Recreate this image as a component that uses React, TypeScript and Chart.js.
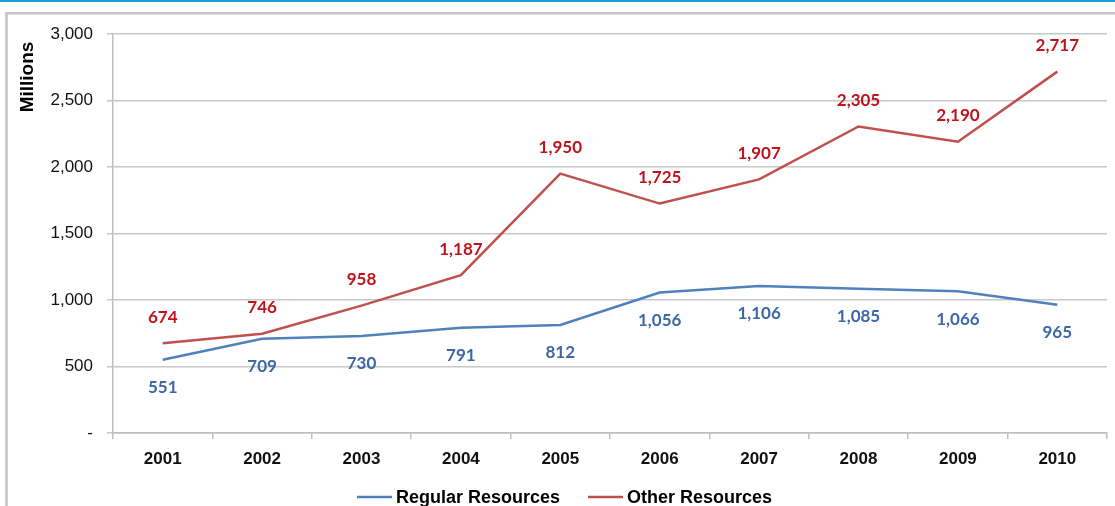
import React, { useEffect, useRef } from "react";
import { Chart, registerables } from "chart.js";

Chart.register(...registerables);

const years = ["2001", "2002", "2003", "2004", "2005", "2006", "2007", "2008", "2009", "2010"];
const regularResources = [551, 709, 730, 791, 812, 1056, 1106, 1085, 1066, 965];
const otherResources = [674, 746, 958, 1187, 1950, 1725, 1907, 2305, 2190, 2717];
const seriesNames = ["Regular Resources", "Other Resources"];
const lineColors = ["#4f81bd", "#c0504d"];
const labelColors = ["#3d67a6", "#c0141c"];
const yAxisTitle = "Millions";

const fmt = (v: number) => (v === 0 ? "-" : v.toLocaleString("en-US"));

const decorPlugin = {
  id: "decor",
  beforeDraw(chart: any) {
    const ctx = chart.ctx;
    ctx.save();
    ctx.fillStyle = "#ffffff";
    ctx.fillRect(0, 0, chart.width, chart.height);
    ctx.fillStyle = "#1b9bd7";
    ctx.fillRect(0, 0, chart.width, 2);
    ctx.strokeStyle = "#c4c4c4";
    ctx.lineWidth = 2.5;
    ctx.beginPath();
    ctx.moveTo(6.5, chart.height + 5);
    ctx.lineTo(6.5, 13.2);
    ctx.lineTo(chart.width + 5, 13.2);
    ctx.stroke();
    ctx.restore();
  },
  afterDraw(chart: any) {
    const ctx = chart.ctx;
    ctx.save();
    ctx.translate(28, 77);
    ctx.rotate(-Math.PI / 2);
    ctx.font = "bold 19px 'Liberation Sans', Arial, sans-serif";
    ctx.fillStyle = "#000";
    ctx.textAlign = "center";
    ctx.textBaseline = "middle";
    ctx.fillText(yAxisTitle, 0, 0);
    ctx.restore();

    ctx.save();
    ctx.font = "bold 17px Lato, 'Open Sans', sans-serif";
    ctx.textAlign = "center";
    ctx.textBaseline = "middle";
    chart.data.datasets.forEach((ds: any, di: number) => {
      const meta = chart.getDatasetMeta(di);
      ctx.fillStyle = labelColors[di];
      meta.data.forEach((pt: any, i: number) => {
        const dy = di === 0 ? 28 : -26;
        ctx.fillText(fmt(ds.data[i]), pt.x, pt.y + dy);
      });
    });
    ctx.restore();

    ctx.save();
    ctx.font = "bold 18px 'Liberation Sans', Arial, sans-serif";
    ctx.textBaseline = "middle";
    ctx.textAlign = "left";
    const ly = 497;
    const items = [
      { x: 357, name: seriesNames[0], color: lineColors[0] },
      { x: 588, name: seriesNames[1], color: lineColors[1] },
    ];
    items.forEach((it) => {
      ctx.strokeStyle = it.color;
      ctx.lineWidth = 2.5;
      ctx.beginPath();
      ctx.moveTo(it.x, ly);
      ctx.lineTo(it.x + 35, ly);
      ctx.stroke();
      ctx.fillStyle = "#000";
      ctx.fillText(it.name, it.x + 39, ly + 1);
    });
    ctx.restore();
  },
};

export default function App() {
  const ref = useRef<HTMLCanvasElement | null>(null);
  useEffect(() => {
    document.body.style.margin = "0";
    const chart = new Chart(ref.current as HTMLCanvasElement, {
      type: "line",
      data: {
        labels: years,
        datasets: [
          {
            label: seriesNames[0],
            data: regularResources,
            borderColor: lineColors[0],
            backgroundColor: lineColors[0],
            borderWidth: 2.5,
            pointRadius: 0,
            tension: 0,
          },
          {
            label: seriesNames[1],
            data: otherResources,
            borderColor: lineColors[1],
            backgroundColor: lineColors[1],
            borderWidth: 2.5,
            pointRadius: 0,
            tension: 0,
          },
        ],
      },
      options: {
        animation: false,
        responsive: false,
        layout: { padding: { left: 0, top: 34, right: 8, bottom: 0 } },
        plugins: {
          legend: { display: false },
          tooltip: { enabled: false },
        },
        scales: {
          x: {
            offset: true,
            grid: {
              offset: true,
              drawOnChartArea: false,
              drawTicks: true,
              tickLength: 6,
              color: "#bfbfbf",
              lineWidth: 1.5,
            },
            border: { color: "#bfbfbf", width: 1.5 },
            ticks: {
              color: "#111",
              font: { family: "'Liberation Sans', Arial, sans-serif", size: 17, weight: "bold" },
              padding: 10,
              maxRotation: 0,
            },
            afterFit: (s: any) => {
              s.height = 73;
            },
          },
          y: {
            min: 0,
            max: 3000,
            grid: {
              color: "#c8c8c8",
              lineWidth: 1.5,
              drawTicks: true,
              tickLength: 6,
            },
            border: { color: "#bfbfbf", width: 1.5 },
            ticks: {
              stepSize: 500,
              color: "#111",
              padding: 14,
              font: { family: "'Liberation Sans', Arial, sans-serif", size: 17 },
              callback: (v: any) => fmt(Number(v)),
            },
            afterFit: (s: any) => {
              s.width = 113;
            },
          },
        },
      },
      plugins: [decorPlugin],
    } as any);
    return () => chart.destroy();
  }, []);
  return (
    <div style={{ width: 1115, height: 506, position: "relative" }}>
      <canvas ref={ref} width={1115} height={506} style={{ display: "block" }} />
    </div>
  );
}
